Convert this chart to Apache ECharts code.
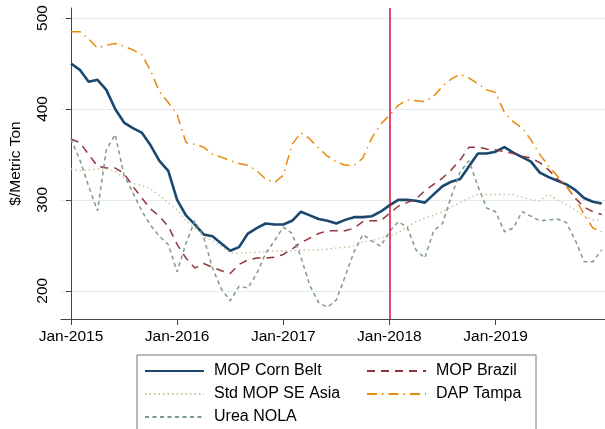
<!DOCTYPE html>
<html><head><meta charset="utf-8">
<script src="https://cdn.jsdelivr.net/npm/echarts@6/dist/echarts.min.js"></script>
<style>html,body{margin:0;padding:0;background:#fff}#c{width:605px;height:429px}</style>
</head><body><div id="c"></div>
<script>
// ---- data ----
const monthNames = ['Jan','Feb','Mar','Apr','May','Jun','Jul','Aug','Sep','Oct','Nov','Dec'];
const months = [];
for (let y = 2015; y <= 2020; y++) for (const m of monthNames) if (months.length < 61) months.push(m + '-' + y);
const xTickLabels = ['Jan-2015','Jan-2016','Jan-2017','Jan-2018','Jan-2019'];
const yTickValues = [200, 300, 400, 500];
const policyMonth = 'Jan-2018';

const mopCornBelt = [450,443,430,432,421,400,385,379,374,360,343,332,300,283,273,262,260,252,244,248,263,269,274,273,273,277,287,283,279,277,274,278,281,281,282,287,294,300,300,299,297,306,315,320,323,337,351,351,353,358,352,347,342,330,325,321,317,311,302,298,296];
const mopBrazil = [367,363,350,337,335,335,329,315,302,290,282,271,251,236,225,230,226,222,219,229,234,236,236,237,240,246,253,258,263,266,266,266,269,276,277,277,285,293,297,301,310,317,324,333,344,358,358,356,355,353,351,348,346,341,333,323,315,302,292,287,284];
const stdMopSEAsia = [334,332,333,334,334,331,324,318,316,312,305,297,289,277,269,260,255,249,242,241,242,242,243,244,244,244,245,245,245,246,247,248,249,254,255,258,260,264,270,276,280,283,287,292,297,302,306,306,306,306,306,303,300,299,306,300,295,289,282,278,277];
const dapTampa = [485,485,477,467,470,472,469,465,460,442,419,407,394,363,361,358,350,347,343,340,338,332,323,319,327,361,374,367,357,348,342,338,338,346,368,383,393,404,410,409,408,414,425,433,438,434,428,421,418,396,386,379,366,350,337,326,315,302,284,269,265];
const ureaNola = [367,344,315,288,355,372,327,308,288,272,260,251,221,252,277,259,225,202,189,205,203,219,241,255,270,263,237,206,187,182,190,216,243,262,255,249,265,276,270,245,236,266,274,304,331,343,315,291,287,265,269,287,282,277,278,279,275,256,232,232,245];

const seriesNames = ['MOP Corn Belt','MOP Brazil','Std MOP SE Asia','DAP Tampa','Urea NOLA'];
const seriesValues = [mopCornBelt, mopBrazil, stdMopSEAsia, dapTampa, ureaNola];

// ---- styles ----
const FONT = 'Liberation Sans, Arial, sans-serif';
const styles = [
  {color:'#1a476f', width:2.6, type:'solid'},
  {color:'#90353b', width:1.5, type:[8,6]},
  {color:'#c6c6a2', width:1.5, type:[1.5,3]},
  {color:'#e8890c', width:1.5, type:[10,5,1.5,5]},
  {color:'#7d998c', width:1.5, type:[4,3.5]}
];

const tickIdx = xTickLabels.map(l => months.indexOf(l));

const series = seriesNames.map((name, i) => ({
  name, type:'line', symbol:'none', smooth:false,
  data: seriesValues[i].map((v, k) => [k, v]),
  lineStyle: {color: styles[i].color, width: styles[i].width, type: styles[i].type},
  itemStyle: {color: styles[i].color},
  z: 2
}));
series[0].markLine = {
  silent:true, symbol:'none', label:{show:false}, z: 10,
  lineStyle:{color:'#d0103a', width:1.5, type:'solid'},
  data:[{xAxis: months.indexOf(policyMonth)}]
};

const legendText = {fontSize:16, lineHeight:18, color:'#000', fontFamily:FONT};

const chart = echarts.init(document.getElementById('c'), null, {renderer:'canvas'});
chart.setOption({
  animation:false,
  backgroundColor:'#fff',
  grid:{left:58, right:0, top:8, bottom:110, containLabel:false},
  xAxis:{
    type:'value', min:-1.125, max:60.37,
    axisLine:{show:true, lineStyle:{color:'#444', width:1}},
    axisTick:{show:true, length:6, lineStyle:{color:'#444'}, customValues: tickIdx},
    axisLabel:{customValues: tickIdx, formatter: v => months[Math.round(v)], fontSize:15.5, color:'#000', fontFamily:FONT, margin:10},
    splitLine:{show:false}
  },
  yAxis:{
    type:'value', min:169, max:511,
    name:'$/Metric Ton', nameLocation:'middle', nameGap:37,
    nameTextStyle:{fontSize:15.5, color:'#000', fontFamily:FONT},
    axisLine:{show:true, lineStyle:{color:'#444', width:1}},
    axisTick:{show:true, length:5, lineStyle:{color:'#444'}, customValues: yTickValues},
    axisLabel:{customValues: yTickValues, rotate:90, fontSize:15.5, color:'#000', fontFamily:FONT, margin:10},
    splitLine:{show:true, lineStyle:{color:'#e3ecef', width:1}}
  },
  legend:[
    {data:[seriesNames[0], seriesNames[2], seriesNames[4]], orient:'vertical', left:137, top:355, height:120,
     padding:[7,174,20,7], itemWidth:59, itemHeight:14, itemGap:5,
     borderColor:'#777', borderWidth:1, itemStyle:{opacity:0},
     textStyle:Object.assign({width:148, padding:[0,0,0,5]}, legendText)},
    {data:[seriesNames[1], seriesNames[3]], orient:'vertical', left:366, top:362, height:120,
     padding:0, itemWidth:59, itemHeight:14, itemGap:5, itemStyle:{opacity:0},
     textStyle:Object.assign({padding:[0,0,0,5]}, legendText)}
  ],
  series
});
</script></body></html>
